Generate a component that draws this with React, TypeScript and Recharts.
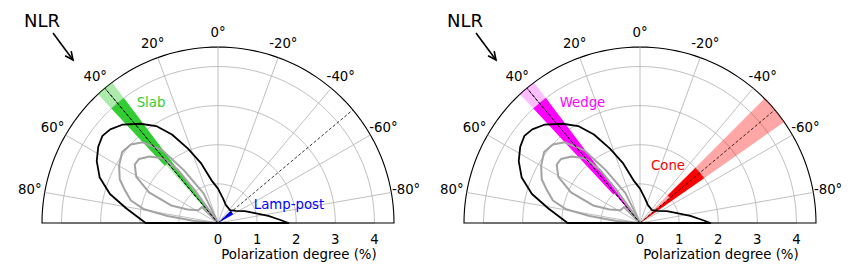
import React from "react";
import {
  RadarChart,
  Radar,
  PolarGrid,
  PolarAngleAxis,
  PolarRadiusAxis,
} from "recharts";

// angle in degrees (0 = up, positive = left), polarization degree in %
const nlrContour: [number, number][] = [
  [90, 1.85], [81, 2.37], [75, 2.86], [69, 3.24], [63, 3.48], [57.5, 3.63],
  [53, 3.7], [49, 3.65], [44, 3.5], [38, 3.22], [32.5, 2.94], [27.5, 2.55],
  [22, 2.05], [16, 1.6], [8, 1.08], [0, 0.88], [-11, 0.65], [-24, 0.5],
  [-43, 0.45], [-56, 0.55], [-66, 0.75], [-75, 0.98], [-82, 1.3], [-87, 1.58],
  [-90, 1.8],
];

const outerContour: [number, number][] = [
  [25, 0], [25, 0.2], [26, 0.85], [33, 1.62], [37.5, 2.35], [43, 2.82],
  [48, 3.0], [53.5, 3.05], [60, 2.92], [66, 2.75], [70, 2.55], [75.5, 2.3],
  [79.5, 1.92], [82, 1.3], [85, 0.6], [88, 0.1], [88, 0],
];

const innerContour: [number, number][] = [
  [34, 0], [34.6, 0.3], [35.3, 1.03], [37, 1.7], [40.4, 2.17], [45.8, 2.44],
  [51, 2.6], [55, 2.6], [60.5, 2.4], [66, 1.93], [69.5, 1.28], [66, 0.85],
  [57, 0.6], [45, 0.58], [45, 0],
];

const angleTicks = [-80, -60, -40, -20, 0, 20, 40, 60, 80];
const degreeTicks = [0, 1, 2, 3, 4];
const MAX_DEGREE = 4.5;
// recharts rounds the radius domain up to this value
const NICE_MAX = 5;

// model bands: direction, half width, core range, half width of the inner faint part
type Model = {
  name: string;
  color: string;
  faint: number;
  angle: number;
  spread: number;
  core: [number, number];
  innerSpread: number;
};

const slab: Model = { name: "Slab", color: "#32cd32", faint: 0.4, angle: 40, spread: 3, core: [2.0, 4.0], innerSpread: 1.8 };
const lampPost: Model = { name: "Lamp-post", color: "#0000ff", faint: 0, angle: -53, spread: 7, core: [0, 0.45], innerSpread: 0 };
const wedge: Model = { name: "Wedge", color: "#ff00ff", faint: 0.25, angle: 40, spread: 3, core: [1.0, 4.0], innerSpread: 1.5 };
const cone: Model = { name: "Cone", color: "#ff0000", faint: 0.35, angle: -50, spread: 5, core: [1.0, 2.0], innerSpread: 5 };

const dashAngles = { left: [40, -50], right: [40, -50] };

const W = 429;
const H = 278;
const CY = 223;
const OUTER = 176;
const SCALE_OUTER = (OUTER * NICE_MAX) / MAX_DEGREE;
const LABEL_RADIUS = 191;

const arcAngles = Array.from({ length: 91 }, (_, i) => i * 2);

type Pt = [number, number];
const sector = (a: number, s: number, r0: number, r1: number): Pt[] => [
  [a - s, r0], [a - s, r1], [a, r1], [a + s, r1], [a + s, r0], [a, r0],
];
const toRows = (key: string, pts: Pt[]) => pts.map(([angle, v]) => ({ angle, [key]: v }));

const validPts = (points: any[]) =>
  (points || []).filter((p) => Number.isFinite(p.x) && Number.isFinite(p.y));

const pathOf = (points: any[], close: boolean) => {
  const ok = validPts(points);
  if (!ok.length) return "";
  return ok.map((p, i) => `${i ? "L" : "M"}${p.x},${p.y}`).join("") + (close ? "Z" : "");
};

const pairsOf = (points: any[]) => {
  const ok = validPts(points);
  let d = "";
  for (let i = 0; i + 1 < ok.length; i += 2) d += `M${ok[i].x},${ok[i].y}L${ok[i + 1].x},${ok[i + 1].y}`;
  return d;
};

function buildData(models: Model[], dashes: number[]) {
  let rows: any[] = [
    ...angleTicks.flatMap((a) => toRows("spoke", [[a, 0], [a, MAX_DEGREE]])),
    ...toRows("nlr", nlrContour),
    ...toRows("outer", outerContour),
    ...toRows("inner", innerContour),
  ];
  models.forEach((m, i) => {
    if (m.faint > 0) {
      rows = rows.concat(toRows(`fa${i}`, sector(m.angle, m.innerSpread, 0, m.core[0])));
      rows = rows.concat(toRows(`fb${i}`, sector(m.angle, m.spread, m.core[1], MAX_DEGREE)));
    }
    rows = rows.concat(toRows(`core${i}`, sector(m.angle, m.spread, m.core[0], m.core[1])));
  });
  dashes.forEach((a, i) => {
    rows = rows.concat(toRows(`dash${i}`, [[a, 0], [a, MAX_DEGREE]]));
  });
  return rows;
}

function Panel({ cx, models, dashes }: { cx: number; models: Model[]; dashes: number[] }) {
  const data = buildData(models, dashes);
  const fill = (color: string, opacity: number) => (p: any) => (
    <path d={pathOf(p.points, true)} fill={color} fillOpacity={opacity} stroke="none" />
  );
  const line = (color: string, width: number, dash?: string) => (p: any) => (
    <path
      d={pathOf(p.points, false)}
      fill="none"
      stroke={color}
      strokeWidth={width}
      strokeDasharray={dash}
      strokeLinejoin="round"
    />
  );
  return (
    <RadarChart
      width={W}
      height={H}
      data={data}
      cx={cx}
      cy={CY}
      innerRadius={0}
      outerRadius={SCALE_OUTER}
      startAngle={0}
      endAngle={180}
      margin={{ top: 0, right: 0, bottom: 0, left: 0 }}
    >
      <PolarGrid gridType="polygon" radialLines={false} polarAngles={arcAngles} stroke="#b0b0b0" strokeWidth={0.8} fill="none" />
      <PolarGrid gridType="polygon" radialLines={false} polarAngles={arcAngles} polarRadius={[OUTER]} stroke="#000" strokeWidth={1.1} fill="none" />
      <PolarAngleAxis
        dataKey="angle"
        type="number"
        domain={[-90, 90]}
        ticks={angleTicks}
        axisLine={false}
        tickLine={false}
        tickSize={LABEL_RADIUS - SCALE_OUTER}
        tick={(p: any) => (
          <text x={p.x} y={p.y} textAnchor="middle" dominantBaseline="central" fontSize={13.3} fill="#000">
            {`${p.payload.value}°`}
          </text>
        )}
      />
      <PolarRadiusAxis
        type="number"
        domain={[0, NICE_MAX]}
        ticks={degreeTicks}
        angle={0}
        axisLine={false}
        tickLine={false}
        tick={(p: any) => (
          <text x={p.x} y={p.y + 16.5} textAnchor="middle" dominantBaseline="central" fontSize={13.3} fill="#000">
            {p.payload.value}
          </text>
        )}
      />
      <Radar
        dataKey="spoke"
        isAnimationActive={false}
        shape={(p: any) => <path d={pairsOf(p.points)} stroke="#b0b0b0" strokeWidth={0.8} fill="none" />}
      />
      {models.map((m, i) =>
        m.faint > 0 ? (
          <Radar key={`fa${i}`} dataKey={`fa${i}`} isAnimationActive={false} shape={fill(m.color, m.faint)} />
        ) : null
      )}
      {models.map((m, i) =>
        m.faint > 0 ? (
          <Radar key={`fb${i}`} dataKey={`fb${i}`} isAnimationActive={false} shape={fill(m.color, m.faint)} />
        ) : null
      )}
      {models.map((m, i) => (
        <Radar key={`core${i}`} dataKey={`core${i}`} isAnimationActive={false} shape={fill(m.color, 1)} />
      ))}
      <Radar dataKey="outer" isAnimationActive={false} shape={line("#a3a3a3", 2)} />
      <Radar dataKey="inner" isAnimationActive={false} shape={line("#a3a3a3", 2)} />
      <Radar dataKey="nlr" isAnimationActive={false} shape={line("#000", 1.8)} />
      {dashes.map((_, i) => (
        <Radar key={`dash${i}`} dataKey={`dash${i}`} isAnimationActive={false} shape={line("#000", 0.8, "3 2")} />
      ))}
    </RadarChart>
  );
}

function Arrow({ x1, y1, x2, y2 }: { x1: number; y1: number; x2: number; y2: number }) {
  const len = Math.hypot(x2 - x1, y2 - y1);
  const bx = (x1 - x2) / len;
  const by = (y1 - y2) / len;
  const c = Math.cos((25 * Math.PI) / 180);
  const s = Math.sin((25 * Math.PI) / 180);
  const h = 9;
  const w1 = [x2 + h * (bx * c - by * s), y2 + h * (bx * s + by * c)];
  const w2 = [x2 + h * (bx * c + by * s), y2 + h * (-bx * s + by * c)];
  return (
    <g stroke="#000" strokeWidth={1.6} fill="none">
      <line x1={x1} y1={y1} x2={x2} y2={y2} />
      <polyline points={`${w1[0]},${w1[1]} ${x2},${y2} ${w2[0]},${w2[1]}`} />
    </g>
  );
}

export default function App() {
  const font = "'DejaVu Sans', sans-serif";
  return (
    <div style={{ position: "absolute", left: 0, top: 0, width: 858, height: 278, background: "#fff", fontFamily: font }}>
      <div style={{ position: "absolute", left: 0, top: 0 }}>
        <Panel cx={218} models={[slab, lampPost]} dashes={dashAngles.left} />
      </div>
      <div style={{ position: "absolute", left: W, top: 0 }}>
        <Panel cx={640 - W} models={[wedge, cone]} dashes={dashAngles.right} />
      </div>
      <svg width={858} height={278} style={{ position: "absolute", left: 0, top: 0, pointerEvents: "none" }} fontFamily={font}>
        <text x={24} y={26.7} fontSize={18} fill="#000">NLR</text>
        <Arrow x1={53} y1={33} x2={73} y2={60} />
        <text x={447} y={26.7} fontSize={18} fill="#000">NLR</text>
        <Arrow x1={476} y1={33} x2={496} y2={60} />
        <text x={151} y={102} fontSize={13.3} fill={slab.color} textAnchor="middle" dominantBaseline="central">{slab.name}</text>
        <text x={289} y={204.5} fontSize={13.3} fill={lampPost.color} textAnchor="middle" dominantBaseline="central">{lampPost.name}</text>
        <text x={582.5} y={102} fontSize={13.3} fill={wedge.color} textAnchor="middle" dominantBaseline="central">{wedge.name}</text>
        <text x={668} y={165} fontSize={13.3} fill={cone.color} textAnchor="middle" dominantBaseline="central">{cone.name}</text>
        <text x={299} y={254} fontSize={13.3} fill="#000" textAnchor="middle" dominantBaseline="central">Polarization degree (%)</text>
        <text x={721} y={254} fontSize={13.3} fill="#000" textAnchor="middle" dominantBaseline="central">Polarization degree (%)</text>
      </svg>
    </div>
  );
}
